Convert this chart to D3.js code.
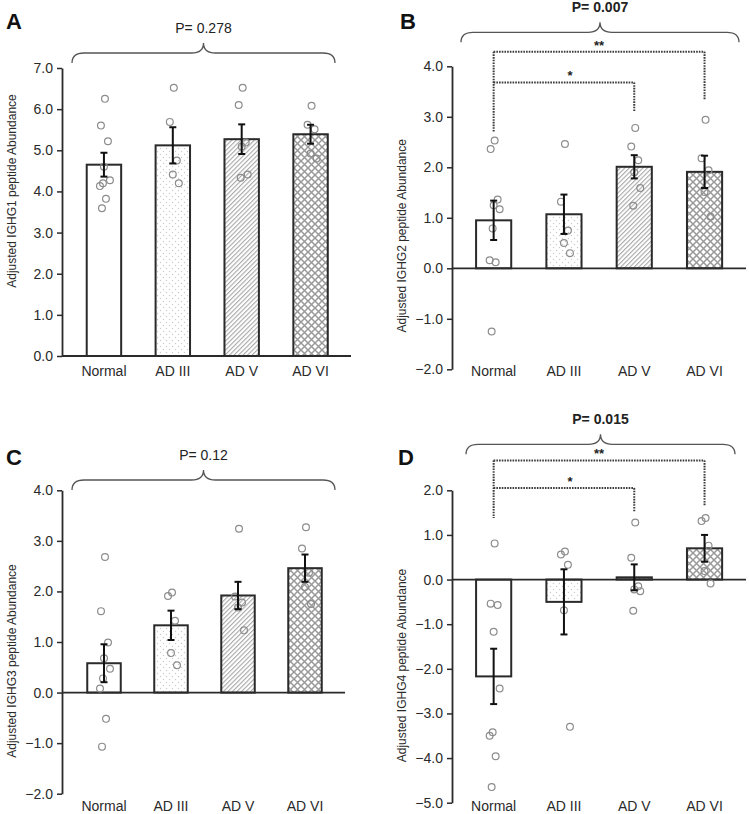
<!DOCTYPE html>
<html>
<head>
<meta charset="utf-8">
<script src="https://cdn.jsdelivr.net/npm/d3@7"></script>
<style>
  body { margin: 0; background: #fff; }
  svg { display: block; font-family: "Liberation Sans", Arial, sans-serif; }
</style>
</head>
<body>
<svg id="chart" width="749" height="814"></svg>
<script>
// ---- data ----
const groups = ["Normal", "AD III", "AD V", "AD VI"];

// panel A - IGHG1
const meanA = [4.65, 5.12, 5.27, 5.39];
const seA = [0.29, 0.44, 0.36, 0.23];
const ptsA = [
  [6.25, 5.6, 5.22, 4.6, 4.27, 4.2, 4.13, 3.82, 3.59],
  [6.52, 5.69, 4.75, 4.41, 4.2],
  [6.52, 6.1, 5.19, 5.09, 4.41, 4.33],
  [6.08, 5.62, 5.51, 4.92, 4.8]
];

// panel B - IGHG2
const meanB = [0.95, 1.07, 2.01, 1.91];
const seB = [0.39, 0.39, 0.23, 0.32];
const ptsB = [
  [2.53, 2.36, 1.36, 1.25, 1.17, 0.79, 0.16, 0.12, -1.25],
  [2.46, 1.32, 0.75, 0.5, 0.3],
  [2.78, 2.41, 2.14, 1.9, 1.59, 1.24],
  [2.94, 2.18, 1.94, 1.51, 1.02]
];

// panel C - IGHG3
const meanC = [0.58, 1.33, 1.92, 2.46];
const seC = [0.375, 0.29, 0.27, 0.27];
const ptsC = [
  [2.68, 1.61, 0.99, 0.68, 0.47, 0.28, 0.08, -0.52, -1.07],
  [1.98, 1.91, 1.42, 0.78, 0.54],
  [3.24, 1.9, 1.78, 1.68, 1.23],
  [3.27, 2.85, 2.37, 2.09, 1.75]
];

// panel D - IGHG4
const meanD = [-2.17, -0.5, 0.05, 0.7];
const seD = [0.62, 0.73, 0.29, 0.3];
const ptsD = [
  [0.81, -0.54, -0.57, -1.17, -2.44, -3.42, -3.5, -3.96, -4.65],
  [0.63, 0.56, 0.33, -0.69, -3.3],
  [1.28, 0.49, -0.15, -0.22, -0.26, -0.7],
  [1.38, 1.31, 0.76, 0.19, -0.09]
];

const pValues = ["P= 0.278", "P= 0.007", "P= 0.12", "P= 0.015"];
const yTitles = [
  "Adjusted IGHG1 peptide Abundance",
  "Adjusted IGHG2 peptide Abundance",
  "Adjusted IGHG3 peptide Abundance",
  "Adjusted IGHG4 peptide Abundance"
];

// post-hoc comparisons (y in data units)
const sigB = { from: "Normal", fromEnd: 2.7, comps: [
  { to: "AD VI", y: 4.29, end: 3.33, label: "**" },
  { to: "AD V", y: 3.68, end: 3.09, label: "*" }
]};
const sigD = { from: "Normal", fromEnd: 1.38, comps: [
  { to: "AD VI", y: 2.67, end: 1.64, label: "**" },
  { to: "AD V", y: 2.05, end: 1.51, label: "*" }
]};

// ---- layout ----
const panels = [
  { letter: "A", mean: meanA, se: seA, pts: ptsA, sig: null, bold: false,
    left: 62, right: 351, top: 68, bottom: 356, yDomain: [0, 7], band: [69.5, 345],
    labelY: 376, titleDy: -21, braceX: [72, 335], braceY: 63, letterX: 6, letterY: 29 },
  { letter: "B", mean: meanB, se: seB, pts: ptsB, sig: sigB, bold: true,
    left: 452, right: 746, top: 66.3, bottom: 369.3, yDomain: [-2, 4], band: [458.5, 739.7],
    labelY: 376, titleDy: 18, braceX: [461, 739], braceY: 42.3, letterX: 400, letterY: 29 },
  { letter: "C", mean: meanC, se: seC, pts: ptsC, sig: null, bold: false,
    left: 62, right: 345, top: 490.3, bottom: 793.7, yDomain: [-2, 4], band: [70.5, 338.5],
    labelY: 811, titleDy: 19, braceX: [72, 335], braceY: 490, letterX: 6, letterY: 465 },
  { letter: "D", mean: meanD, se: seD, pts: ptsD, sig: sigD, bold: true,
    left: 452, right: 746, top: 490.3, bottom: 802.7, yDomain: [-5, 2], band: [458.5, 739.7],
    labelY: 811, titleDy: 19, braceX: [466, 735], braceY: 454.3, letterX: 398, letterY: 465 }
];

const fills = ["#fff", "url(#dots)", "url(#hatch)", "url(#cross)"];
const jitter = [1, -3, 4, 0, 6, -1, -4, 2, -2];

const svg = d3.select("#chart");

// patterns
const defs = svg.append("defs");
const pDots = defs.append("pattern").attr("id", "dots")
  .attr("patternUnits", "userSpaceOnUse").attr("width", 6).attr("height", 6);
pDots.append("rect").attr("width", 6).attr("height", 6).attr("fill", "#fff");
pDots.append("circle").attr("cx", 1.5).attr("cy", 1.5).attr("r", 0.7).attr("fill", "#cacaca");
pDots.append("circle").attr("cx", 4.5).attr("cy", 4.5).attr("r", 0.7).attr("fill", "#cacaca");

const pHatch = defs.append("pattern").attr("id", "hatch")
  .attr("patternUnits", "userSpaceOnUse").attr("width", 3.2).attr("height", 10)
  .attr("patternTransform", "rotate(45)");
pHatch.append("rect").attr("width", 3.2).attr("height", 10).attr("fill", "#fff");
pHatch.append("rect").attr("width", 1.1).attr("height", 10).attr("fill", "#a8a8a8");

const pCross = defs.append("pattern").attr("id", "cross")
  .attr("patternUnits", "userSpaceOnUse").attr("width", 7).attr("height", 7);
pCross.append("rect").attr("width", 7).attr("height", 7).attr("fill", "#fff");
pCross.append("path")
  .attr("d", "M-1,-1L8,8M8,-1L-1,8")
  .attr("stroke", "#999").attr("stroke-width", 1.5).attr("fill", "none");

const ink = "#2a2a2a";

panels.forEach((p, pi) => {
  const g = svg.append("g");

  const y = d3.scaleLinear().domain(p.yDomain).range([p.bottom, p.top]);
  const x = d3.scaleBand().domain(groups).range(p.band).paddingInner(0.5).paddingOuter(0.25);
  const cx = d => x(d) + x.bandwidth() / 2;

  // y axis
  const ticks = d3.range(p.yDomain[0], p.yDomain[1] + 0.5, 1);
  const yAxis = g.append("g")
    .attr("transform", `translate(${p.left},0)`)
    .call(d3.axisLeft(y).tickValues(ticks).tickFormat(d3.format(".1f"))
      .tickSize(5).tickSizeOuter(0).tickPadding(4));
  yAxis.select(".domain").attr("stroke", ink).attr("stroke-width", 1.8);
  yAxis.selectAll(".tick line").attr("stroke", ink).attr("stroke-width", 1.5);
  yAxis.selectAll(".tick text").attr("fill", ink).attr("font-size", 14)
    .attr("font-family", "Liberation Sans, Arial, sans-serif");

  // y title
  g.append("text")
    .attr("transform", `translate(${p.left - 46},${(p.top + p.bottom) / 2 + p.titleDy}) rotate(-90)`)
    .attr("text-anchor", "middle")
    .attr("font-size", 12)
    .attr("fill", ink)
    .text(yTitles[pi]);

  // bars
  g.selectAll("rect.bar")
    .data(groups)
    .join("rect")
    .attr("class", "bar")
    .attr("x", d => x(d))
    .attr("width", x.bandwidth())
    .attr("y", (d, i) => y(Math.max(0, p.mean[i])))
    .attr("height", (d, i) => Math.abs(y(p.mean[i]) - y(0)))
    .attr("fill", (d, i) => fills[i])
    .attr("stroke", ink)
    .attr("stroke-width", 2);

  // zero line / x axis
  g.append("line")
    .attr("x1", p.left).attr("x2", p.right)
    .attr("y1", y(0)).attr("y2", y(0))
    .attr("stroke", ink).attr("stroke-width", 1.8);

  // individual points
  groups.forEach((grp, i) => {
    g.selectAll(null)
      .data(p.pts[i])
      .join("circle")
      .attr("cx", (d, j) => cx(grp) + jitter[j % jitter.length])
      .attr("cy", d => y(d))
      .attr("r", 3.4)
      .attr("fill", "none")
      .attr("stroke", "#8c8c8c")
      .attr("stroke-width", 1.2);
  });

  // error bars
  const eb = g.selectAll("g.err")
    .data(groups)
    .join("g")
    .attr("class", "err")
    .attr("stroke", "#111")
    .attr("stroke-width", 2);
  eb.append("line")
    .attr("x1", d => cx(d)).attr("x2", d => cx(d))
    .attr("y1", (d, i) => y(p.mean[i] + p.se[i]))
    .attr("y2", (d, i) => y(p.mean[i] - p.se[i]));
  [1, -1].forEach(s => {
    eb.append("line")
      .attr("x1", d => cx(d) - 3.5).attr("x2", d => cx(d) + 3.5)
      .attr("y1", (d, i) => y(p.mean[i] + s * p.se[i]))
      .attr("y2", (d, i) => y(p.mean[i] + s * p.se[i]));
  });

  // x labels
  g.selectAll("text.xl")
    .data(groups)
    .join("text")
    .attr("class", "xl")
    .attr("x", d => cx(d))
    .attr("y", p.labelY)
    .attr("text-anchor", "middle")
    .attr("font-size", 14)
    .attr("fill", ink)
    .text(d => d);

  // overall brace + p value
  const [x1, x2] = p.braceX, xm = (x1 + x2) / 2;
  const yb = p.braceY, yt = yb - 10, tip = yb - 20;
  g.append("path")
    .attr("d", `M${x1},${yb}Q${x1},${yt} ${x1 + 12},${yt}L${xm - 12},${yt}Q${xm},${yt} ${xm},${tip}` +
      `Q${xm},${yt} ${xm + 12},${yt}L${x2 - 12},${yt}Q${x2},${yt} ${x2},${yb}`)
    .attr("fill", "none")
    .attr("stroke", "#555")
    .attr("stroke-width", 1.3);
  g.append("text")
    .attr("x", xm)
    .attr("y", tip - 10.5)
    .attr("text-anchor", "middle")
    .attr("font-size", 14)
    .attr("font-weight", p.bold ? "bold" : "normal")
    .attr("fill", "#222")
    .text(pValues[pi]);

  // panel letter
  g.append("text")
    .attr("x", p.letterX)
    .attr("y", p.letterY)
    .attr("font-size", 22)
    .attr("font-weight", "bold")
    .attr("fill", "#111")
    .text(p.letter);

  // pairwise brackets
  if (p.sig) {
    const dot = sel => sel.attr("stroke", "#3a3a3a").attr("stroke-width", 2)
      .attr("stroke-dasharray", "1.6,1.1").attr("fill", "none");
    const top = d3.max(p.sig.comps, c => c.y);
    g.append("line")
      .attr("x1", cx(p.sig.from)).attr("x2", cx(p.sig.from))
      .attr("y1", y(top)).attr("y2", y(p.sig.fromEnd)).call(dot);
    p.sig.comps.forEach(c => {
      g.append("line")
        .attr("x1", cx(p.sig.from)).attr("x2", cx(c.to))
        .attr("y1", y(c.y)).attr("y2", y(c.y)).call(dot);
      g.append("line")
        .attr("x1", cx(c.to)).attr("x2", cx(c.to))
        .attr("y1", y(c.y)).attr("y2", y(c.end)).call(dot);
      g.append("text")
        .attr("x", (cx(p.sig.from) + cx(c.to)) / 2 + (c.label === "*" ? 6 : 0))
        .attr("y", y(c.y) - 2)
        .attr("text-anchor", "middle")
        .attr("font-size", 13)
        .attr("font-weight", "bold")
        .attr("fill", "#222")
        .text(c.label);
    });
  }
});
</script>
</body>
</html>
